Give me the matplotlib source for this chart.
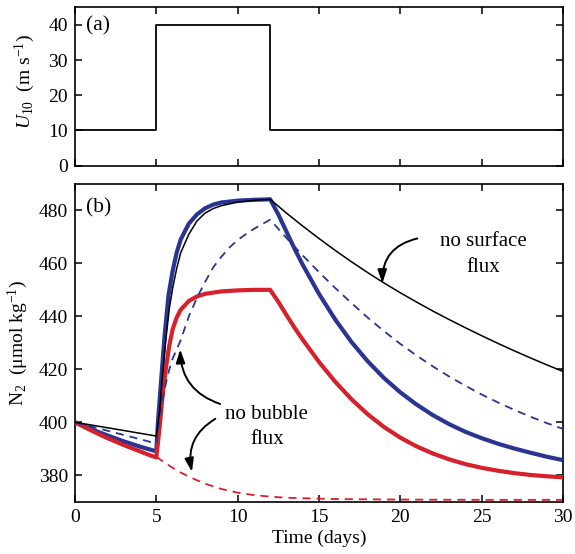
import matplotlib
matplotlib.use("Agg")
import matplotlib.pyplot as plt

plt.rcParams['font.family'] = ['Liberation Serif', 'DejaVu Serif']
plt.rcParams['mathtext.fontset'] = 'custom'
plt.rcParams['mathtext.rm'] = 'Liberation Serif'
plt.rcParams['mathtext.it'] = 'Liberation Serif:italic'
plt.rcParams['mathtext.bf'] = 'Liberation Serif:bold'

# ---------------- data ----------------
# (a) wind speed step
t_wind = [0, 5, 12, 30]
u10 = [10, 40, 10, 10]

# (b) N2 series
t_black = [0, 5, 5.2, 5.4, 5.6, 5.8, 6, 6.25, 6.5, 7, 7.5, 8, 8.5, 9, 10, 11, 12,
           13, 14, 15, 16, 17, 18, 19, 20, 21, 22, 23, 24, 25, 26, 27, 28, 29, 30]
n2_black = [400, 394.8, 404, 419, 432, 443, 450.5, 458, 464, 471, 476, 479, 480.7, 481.8, 483.1, 483.8, 484.2,
            479.0, 474.1, 469.4, 464.9, 460.6, 456.5, 452.6, 448.9, 445.4, 442.0, 438.8, 435.7, 432.7, 429.8, 427.0, 424.3, 421.7, 419.2]

t_blue = [0, 0.5, 1, 1.5, 2, 2.5, 3, 3.5, 4, 4.5, 5, 5.1, 5.25, 5.5, 5.75, 6, 6.25, 6.5, 7, 7.5, 8, 8.5, 9, 10, 11, 12,
          12.5, 13, 13.5, 14, 15, 16, 17, 18, 19, 20, 21, 22, 23, 24, 25, 26, 27, 28, 29, 30]
n2_blue = [400, 398.7, 397.4, 396.2, 395, 393.9, 392.8, 391.8, 390.8, 389.9, 389, 400, 412, 432, 448, 457, 464, 469, 475, 478.5, 480.8, 482.2, 483, 483.7, 484, 484.2,
           478.5, 472, 465.5, 459.5, 448.5, 438.8, 430.3, 423, 416.7, 411.3, 406.7, 402.7, 399.3, 396.4, 394, 391.9, 390.1, 388.5, 387, 385.7]

t_blue_nb = [0, 1, 2, 3, 4, 5, 5.2, 5.4, 5.6, 5.8, 6, 6.5, 7, 7.5, 8, 8.5, 9, 9.5, 10, 10.5, 11, 11.5, 12,
             13, 14, 15, 16, 17, 18, 19, 20, 21, 22, 23, 24, 25, 26, 27, 28, 29, 30]
n2_blue_nb = [400, 398.4, 396.8, 395.2, 393.6, 392, 402, 409, 415, 420, 424, 431, 440, 447, 453, 458.5, 462.5, 466, 468.8, 471, 473, 474.8, 476.5,
              469.6, 463, 456.7, 450.7, 445, 439.5, 434.4, 429.6, 425.2, 421.1, 417.3, 413.8, 410.5, 407.5, 404.7, 402.1, 399.7, 397.5]

t_red = [0, 0.5, 1, 1.5, 2, 2.5, 3, 3.5, 4, 4.5, 5, 5.2, 5.4, 5.6, 5.8, 6, 6.25, 6.5, 7, 7.5, 8, 9, 10, 11, 12,
         12.5, 13, 13.5, 14, 15, 16, 17, 18, 19, 20, 21, 22, 23, 24, 25, 26, 27, 28, 29, 30]
n2_red = [400, 398.4, 396.9, 395.4, 394, 392.7, 391.4, 390.2, 389, 387.8, 386.7, 398, 411, 421, 429, 435, 439.5, 442.5, 445.8, 447.5, 448.5, 449.4, 449.8, 450, 450,
          445.5, 440.5, 435.7, 431.2, 422.8, 415.3, 408.7, 403, 398.2, 394.2, 390.9, 388.2, 386, 384.2, 382.8, 381.7, 380.8, 380.1, 379.6, 379.2]

t_red_nb = [5, 5.5, 6, 6.5, 7, 7.5, 8, 9, 10, 11, 12, 13, 14, 16, 20, 25, 30]
n2_red_nb = [387, 384.8, 382.8, 381, 379.5, 378.1, 376.8, 374.8, 373.4, 372.5, 371.9, 371.5, 371.3, 371.0, 370.8, 370.7, 370.7]

x_ticks = [0, 5, 10, 15, 20, 25, 30]
u_ticks = [0, 10, 20, 30, 40]
n2_ticks = [380, 400, 420, 440, 460, 480]

# ---------------- figure ----------------
BLUE = '#2a3592'
RED = '#d6202b'

fig = plt.figure(figsize=(5.75, 5.54), dpi=100)
axa = fig.add_axes([0.1304, 0.701, 0.8486, 0.286])
axb = fig.add_axes([0.1304, 0.0944, 0.8486, 0.5736])

for ax in (axa, axb):
    for sp in ax.spines.values():
        sp.set_linewidth(1.2)
    ax.tick_params(direction='in', top=True, right=True, length=5, width=1.1,
                   labelsize=14, pad=5)
    ax.set_xlim(0, 30)
    ax.set_xticks(x_ticks)

# panel (a)
axa.plot(t_wind, u10, color='black', lw=1.3, drawstyle='steps-post')
axa.set_ylim(0, 45)
axa.set_yticks(u_ticks)
axa.tick_params(labelbottom=False)
axa.set_ylabel(r'$U_{\mathit{10}}$  (m s$^{\mathrm{-1}}$)', fontsize=14)
axa.yaxis.set_label_coords(-0.078, 0.53)
axa.text(0.022, 0.885, '(a)', transform=axa.transAxes, fontsize=15.5,
         ha='left', va='center')

# panel (b)
axb.plot(t_red_nb, n2_red_nb, color=RED, lw=1.3, dashes=(4.5, 3.3), zorder=2)
axb.plot(t_blue, n2_blue, color=BLUE, lw=3.0, zorder=3, solid_capstyle='butt')
axb.plot(t_red, n2_red, color=RED, lw=3.0, zorder=4, solid_capstyle='butt')
axb.plot(t_blue_nb, n2_blue_nb, color=BLUE, lw=1.3, dashes=(4.5, 3.3), zorder=5)
axb.plot(t_black, n2_black, color='black', lw=1.1, zorder=6)
axb.set_ylim(370, 490)
axb.set_yticks(n2_ticks)
axb.set_xlabel('Time (days)', fontsize=14, labelpad=3)
axb.set_ylabel('N$_2$  (μmol kg$^{\\mathrm{-1}}$)', fontsize=14)
axb.yaxis.set_label_coords(-0.092, 0.5)
axb.text(0.022, 0.924, '(b)', transform=axb.transAxes, fontsize=15.5,
         ha='left', va='center')

# annotations
axb.text(25.1, 463.3, 'no surface\nflux', fontsize=15, ha='center', va='center',
         linespacing=1.45)
axb.text(11.8, 398.3, 'no bubble\nflux', fontsize=15, ha='center', va='center',
         linespacing=1.45)

aprops = dict(arrowstyle='-|>,head_length=0.5,head_width=0.17', color='black',
              lw=1.4, mutation_scale=16, shrinkA=0, shrinkB=0)
axb.annotate('', xy=(18.9, 452.5), xytext=(21.05, 469.4),
             arrowprops=dict(connectionstyle='arc3,rad=0.4', **aprops), zorder=8)
axb.annotate('', xy=(6.47, 427.5), xytext=(8.93, 406.9),
             arrowprops=dict(connectionstyle='arc3,rad=-0.35', **aprops), zorder=8)
axb.annotate('', xy=(7.19, 381.3), xytext=(8.63, 401.3),
             arrowprops=dict(connectionstyle='arc3,rad=0.35', **aprops), zorder=8)

fig.savefig('out.png', dpi=100)
